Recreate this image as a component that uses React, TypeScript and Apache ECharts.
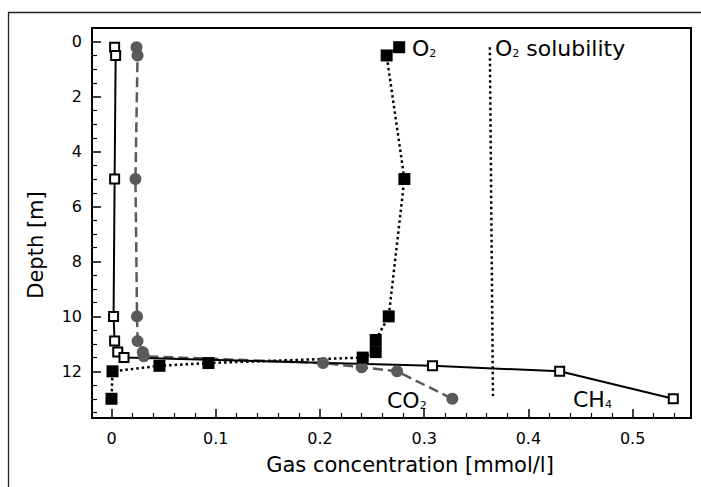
import React, { useEffect, useRef } from "react";
import * as echarts from "echarts";

// ---- data ----
const ch4Depth = [0.2, 0.5, 5, 10, 10.9, 11.3, 11.5, 11.8, 12, 13];
const ch4Conc = [0.003, 0.004, 0.003, 0.002, 0.003, 0.006, 0.012, 0.308, 0.43, 0.539];

const co2Depth = [0.2, 0.5, 5, 10, 10.9, 11.3, 11.45, 11.7, 11.85, 12, 13];
const co2Conc = [0.024, 0.025, 0.023, 0.0245, 0.025, 0.03, 0.031, 0.203, 0.24, 0.274, 0.327];

const o2Depth = [0.2, 0.5, 5, 10, 10.86, 11.3, 11.5, 11.7, 11.8, 12, 13];
const o2Conc = [0.276, 0.264, 0.281, 0.266, 0.2535, 0.2535, 0.241, 0.093, 0.046, 0.001, 0.0];

const solDepth = [0.2, 12.9];
const solConc = [0.363, 0.366];

const xMajorTicks = [0, 0.1, 0.2, 0.3, 0.4, 0.5];
const xMinorTicks = [
  0.02, 0.04, 0.06, 0.08, 0.12, 0.14, 0.16, 0.18, 0.22, 0.24, 0.26, 0.28,
  0.32, 0.34, 0.36, 0.38, 0.42, 0.44, 0.46, 0.48, 0.52, 0.54,
];
const yMajorTicks = [0, 2, 4, 6, 8, 10, 12];
const yMinorTicks = [
  0.5, 1, 1.5, 2.5, 3, 3.5, 4.5, 5, 5.5, 6.5, 7, 7.5, 8.5, 9, 9.5, 10.5, 11,
  11.5, 12.5, 13, 13.5,
];

const X_MIN = -0.0187;
const X_MAX = 0.556;
const Y_MIN = -0.5;
const Y_MAX = 13.7;

const FONT = "'DejaVu Sans', sans-serif";

const pairs = (xs: number[], ys: number[]) => xs.map((x, i) => [x, ys[i]]);

const subText = (base: string, sub: string, rest = "") =>
  `{a|${base}}{s|${sub}}` + (rest ? `{a|${rest}}` : "");

const richStyle = {
  a: { fontSize: 22, fontFamily: FONT, fill: "#000", verticalAlign: "bottom", lineHeight: 24 },
  s: { fontSize: 11, fontFamily: FONT, fill: "#000", verticalAlign: "bottom", lineHeight: 22 },
};

function label(text: string, x: number, y: number) {
  return {
    type: "text",
    x,
    y,
    z: 100,
    style: {
      text,
      rich: richStyle,
      fill: "#000",
      align: "left",
      verticalAlign: "middle",
      font: `22px ${FONT}`,
    },
  };
}

const axisLabelStyle = { color: "#000", fontFamily: FONT, fontSize: 16 };

export default function App() {
  const ref = useRef<HTMLDivElement>(null);
  useEffect(() => {
    const chart = echarts.init(ref.current!, null, { renderer: "svg", width: 701, height: 487 });
    const option: any = {
      animation: false,
      backgroundColor: "#fff",
      grid: {
        left: 92,
        top: 28,
        right: 10,
        bottom: 69,
        show: true,
        borderColor: "#000",
        borderWidth: 2,
        containLabel: false,
        outerBoundsMode: "none",
      },
      xAxis: [
        {
          type: "value",
          position: "bottom",
          min: X_MIN,
          max: X_MAX,
          name: "Gas concentration [mmol/l]",
          nameLocation: "middle",
          nameGap: 36,
          nameTextStyle: { color: "#000", fontFamily: FONT, fontSize: 21, padding: [0, 0, 0, 37] },
          axisLine: { show: true, onZero: false, lineStyle: { color: "#000", width: 2 } },
          axisTick: { show: true, inside: true, length: 9, customValues: xMajorTicks, lineStyle: { color: "#000", width: 1.5 } },
          axisLabel: { ...axisLabelStyle, margin: 12, customValues: xMajorTicks, formatter: (v: number) => String(v) },
          splitLine: { show: false },
        },
        {
          type: "value",
          position: "bottom",
          min: X_MIN,
          max: X_MAX,
          axisLine: { show: false, onZero: false },
          axisTick: { show: true, inside: true, length: 5, customValues: xMinorTicks, lineStyle: { color: "#000", width: 1.2 } },
          axisLabel: { show: false },
          splitLine: { show: false },
        },
      ],
      yAxis: [
        {
          type: "value",
          position: "left",
          inverse: true,
          min: Y_MIN,
          max: Y_MAX,
          name: "Depth [m]",
          nameLocation: "middle",
          nameRotate: 90,
          nameGap: 46,
          nameTextStyle: { color: "#000", fontFamily: FONT, fontSize: 21, padding: [0, 44, 0, 0] },
          axisLine: { show: true, onZero: false, lineStyle: { color: "#000", width: 2 } },
          axisTick: { show: true, inside: true, length: 9, customValues: yMajorTicks, lineStyle: { color: "#000", width: 1.5 } },
          axisLabel: { ...axisLabelStyle, margin: 10, customValues: yMajorTicks, formatter: (v: number) => String(v) },
          splitLine: { show: false },
        },
        {
          type: "value",
          position: "left",
          inverse: true,
          min: Y_MIN,
          max: Y_MAX,
          axisLine: { show: false, onZero: false },
          axisTick: { show: true, inside: true, length: 5, customValues: yMinorTicks, lineStyle: { color: "#000", width: 1.2 } },
          axisLabel: { show: false },
          splitLine: { show: false },
        },
      ],
      series: [
        {
          name: "O2 solubility",
          type: "line",
          data: pairs(solConc, solDepth),
          symbol: "none",
          lineStyle: { color: "#000", width: 2.5, type: [2.5, 3] },
        },
        {
          name: "CO2",
          type: "line",
          data: pairs(co2Conc, co2Depth),
          symbol: "circle",
          symbolSize: 12,
          itemStyle: { color: "#5a5a5a" },
          lineStyle: { color: "#5a5a5a", width: 2.5, type: [10, 5] },
        },
        {
          name: "CH4",
          type: "line",
          data: pairs(ch4Conc, ch4Depth),
          symbol: "rect",
          symbolSize: 9,
          itemStyle: { color: "#fff", borderColor: "#000", borderWidth: 2 },
          lineStyle: { color: "#000", width: 2 },
        },
        {
          name: "O2",
          type: "line",
          data: pairs(o2Conc, o2Depth),
          symbol: "rect",
          symbolSize: 12,
          itemStyle: { color: "#000" },
          lineStyle: { color: "#000", width: 2.5, type: [2.5, 3] },
        },
      ],
      graphic: [
        {
          type: "polyline",
          shape: { points: [[8.5, 487], [8.5, 12.5], [701, 12.5]] },
          style: { stroke: "#222", lineWidth: 1.3, fill: null },
          silent: true,
        },
        label(subText("O", "2"), 412, 47),
        label(subText("O", "2", " solubility"), 495, 47),
        label(subText("CO", "2"), 387, 399),
        label(subText("CH", "4"), 573, 398),
      ],
    };
    chart.setOption(option);
    return () => chart.dispose();
  }, []);
  return (
    <div
      ref={ref}
      style={{ position: "absolute", left: 0, top: 0, width: 701, height: 487, background: "#fff" }}
    />
  );
}
